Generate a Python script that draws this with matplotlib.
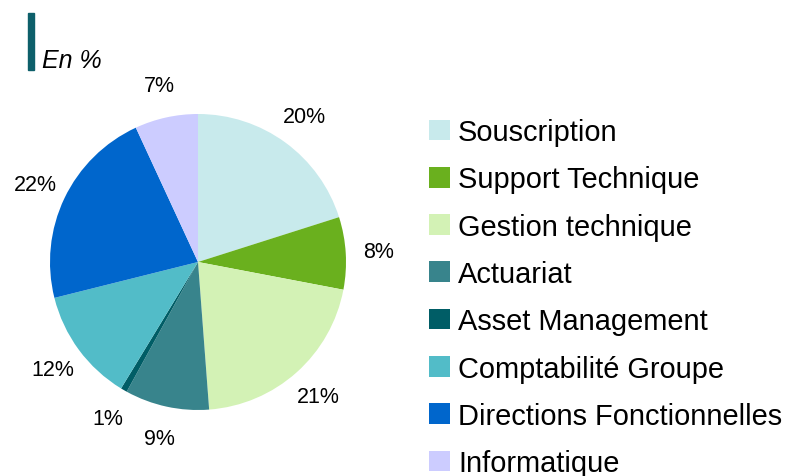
import matplotlib
matplotlib.use("Agg")
import matplotlib.pyplot as plt
from matplotlib.patches import Rectangle

categories = ["Souscription", "Support Technique", "Gestion technique", "Actuariat",
              "Asset Management", "Comptabilité Groupe", "Directions Fonctionnelles",
              "Informatique"]
values = [20.1, 7.9, 20.8, 9.2, 0.7, 12.4, 22.0, 6.9]
colors = ["#c8eaec", "#6ab01e", "#d3f2b5", "#38848c", "#005d66", "#52bcc8",
          "#0066cc", "#ccccff"]
unit_label = "En %"

plt.rcParams['font.family'] = ['Liberation Sans', 'DejaVu Sans']

W, H = 787, 477
fig = plt.figure(figsize=(W / 100, H / 100), dpi=100)

cx, cy, r = 198, 263, 148
ax = fig.add_axes([(cx - r) / W, (H - cy - r) / H, 2 * r / W, 2 * r / H])
total = sum(values)
wedges, texts = ax.pie(values, colors=colors, startangle=90, counterclock=False,
                       labels=[f"{round(v / total * 100)}%" for v in values],
                       labeldistance=1.22,
                       textprops=dict(fontsize=15.5, ha='center', va='center'),
                       wedgeprops=dict(linewidth=0))
for t in texts:
    t.set_ha('center')
ax.set_xlim(-1, 1)
ax.set_ylim(-1, 1)
ax.set_aspect('equal')
ax.axis('off')

# title bar and text
fig.patches.append(Rectangle((28 / W, (H - 71) / H), 6 / W, 57 / H,
                             transform=fig.transFigure, color="#0d5f6a"))
fig.text(42 / W, (H - 61) / H, unit_label, fontsize=18, style='italic',
         ha='left', va='center')

leg = fig.legend(wedges, categories, loc='upper left',
                 bbox_to_anchor=(429 / W, (H - 119) / H),
                 frameon=False, fontsize=20.9, borderpad=0, borderaxespad=0,
                 handlelength=0.72, handleheight=0.72, handletextpad=0.28,
                 labelspacing=0.665)

fig.savefig("out.png", dpi=100)
